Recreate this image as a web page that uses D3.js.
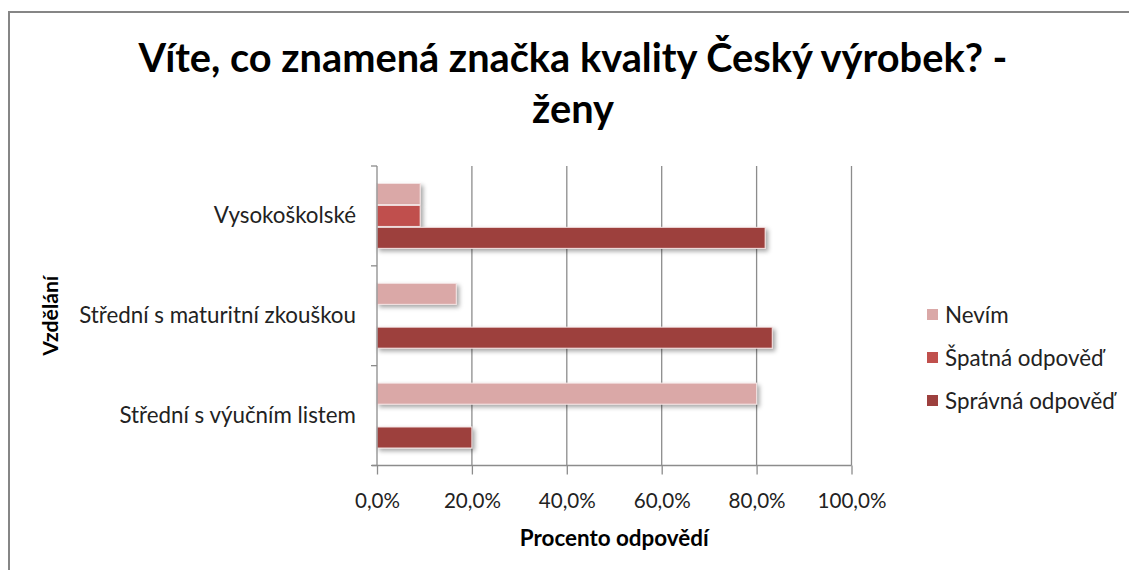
<!DOCTYPE html>
<html><head><meta charset="utf-8">
<script src="https://cdn.jsdelivr.net/npm/d3@7"></script>
<style>body{margin:0;background:#fff} svg{display:block}</style>
</head><body>
<svg id="c" width="1129" height="570"></svg>
<script>
const categories = ["Vysokoškolské", "Střední s maturitní zkouškou", "Střední s výučním listem"];
const seriesNames = ["Nevím", "Špatná odpověď", "Správná odpověď"];
const nevim = [9.1, 16.7, 80.0];
const spatna = [9.1, 0, 0];
const spravna = [81.8, 83.3, 20.0];
const xTicks = [0, 20, 40, 60, 80, 100];
const titleLines = ["Víte, co znamená značka kvality Český výrobek? -", "ženy"];
const xTitle = "Procento odpovědí";
const yTitle = "Vzdělání";
const colors = ["#DAA8A7", "#C0504D", "#9D403E"];

(function () {
const seriesValues = [nevim, spatna, spravna];
const FONT = "Lato, 'Open Sans', sans-serif";
const svg = d3.select("#c");

function fitSize(text, weight, target) {
  const t = svg.append("text").attr("font-family", FONT).attr("font-weight", weight)
    .attr("font-size", 100).text(text);
  const w = t.node().getComputedTextLength();
  t.remove();
  return 100 * target / w;
}

const defs = svg.append("defs");
const f = defs.append("filter").attr("id", "sh").attr("x", "-10%").attr("y", "-30%").attr("width", "130%").attr("height", "180%");
f.append("feDropShadow").attr("dx", 2.5).attr("dy", 2.5).attr("stdDeviation", 2)
  .attr("flood-color", "#000").attr("flood-opacity", 0.35);

svg.append("rect").attr("x", 9).attr("y", 12).attr("width", 1200).attr("height", 600)
  .attr("fill", "none").attr("stroke", "#868686").attr("stroke-width", 2);

const pL = 377, pR = 851.5, pT = 166, pB = 465.5;
const x = d3.scaleLinear().domain([0, 100]).range([pL, pR]);
const y = d3.scaleBand().domain(categories).range([pT, pB]).paddingInner(0.35).paddingOuter(0.175);
const ys = d3.scaleBand().domain(seriesNames).range([0, y.bandwidth()]).paddingInner(0.04);

const titleSize = fitSize(titleLines[0], "bold", 869);
svg.append("text").attr("font-family", FONT).attr("font-weight", "bold").attr("font-size", titleSize)
  .attr("text-anchor", "middle").attr("x", 573).attr("y", 72).text(titleLines[0]);
svg.append("text").attr("font-family", FONT).attr("font-weight", "bold").attr("font-size", titleSize)
  .attr("text-anchor", "middle").attr("x", 573).attr("y", 123).text(titleLines[1]);

svg.append("g").selectAll("line").data(xTicks.slice(1)).join("line")
  .attr("x1", d => x(d)).attr("x2", d => x(d)).attr("y1", pT).attr("y2", pB)
  .attr("stroke", "#8C8C8C").attr("stroke-width", 1.3);

const data = [];
categories.forEach((c, i) => seriesNames.forEach((s, j) => data.push({c, s, j, v: seriesValues[j][i]})));
svg.append("g").selectAll("rect").data(data.filter(d => d.v > 0)).join("rect")
  .attr("x", x(0)).attr("y", d => y(d.c) + ys(d.s))
  .attr("width", d => x(d.v) - x(0)).attr("height", ys.bandwidth())
  .attr("fill", d => colors[d.j]).attr("stroke", "#F4E4E4").attr("stroke-width", 1)
  .attr("filter", "url(#sh)");

const tickSize = fitSize("100,0%", "normal", 69);
const xAxis = d3.axisBottom(x).tickValues(xTicks).tickSize(9).tickPadding(19)
  .tickFormat(d => d3.format(".1f")(d).replace(".", ",") + "%");
const gx = svg.append("g").attr("transform", `translate(0,${pB})`).call(xAxis);
gx.select(".domain").attr("stroke", "#8C8C8C").attr("stroke-width", 1.3).attr("d", `M${pL - 5},0H${pR}`);
gx.selectAll(".tick line").attr("stroke", "#8C8C8C").attr("stroke-width", 1.3);
gx.selectAll(".tick text").attr("font-family", FONT).attr("font-size", tickSize).attr("fill", "#222");

const catSize = fitSize("Střední s maturitní zkouškou", "normal", 277);
const yAxis = d3.axisLeft(y).tickSize(0).tickPadding(21);
const gy = svg.append("g").attr("transform", `translate(${pL},0)`).call(yAxis);
gy.select(".domain").attr("stroke", "#8C8C8C").attr("stroke-width", 1.3).attr("d", `M0,${pT}V${pB}`);
gy.selectAll(".tick text").attr("font-family", FONT).attr("font-size", catSize).attr("fill", "#222");
const sep = categories.map(c => y(c) - y.step() * y.paddingInner() / 2);
sep.push(pB);
svg.append("g").selectAll("line").data(sep).join("line")
  .attr("x1", pL - 6).attr("x2", pL).attr("y1", d => d).attr("y2", d => d)
  .attr("stroke", "#8C8C8C").attr("stroke-width", 1.3);

const xtSize = fitSize(xTitle, "bold", 189);
svg.append("text").attr("font-family", FONT).attr("font-weight", "bold").attr("font-size", xtSize)
  .attr("text-anchor", "middle").attr("x", (pL + pR) / 2).attr("y", 546).text(xTitle);
const ytSize = fitSize(yTitle, "bold", 80);
svg.append("text").attr("font-family", FONT).attr("font-weight", "bold").attr("font-size", ytSize)
  .attr("text-anchor", "middle").attr("transform", `translate(58,${(pT + pB) / 2}) rotate(-90)`).text(yTitle);

const legSize = fitSize("Správná odpověď", "normal", 170);
const legY = d3.scalePoint().domain(seriesNames).range([315, 401]);
const lg = svg.append("g").selectAll("g").data(seriesNames).join("g")
  .attr("transform", d => `translate(927,${legY(d)})`);
lg.append("rect").attr("x", 0).attr("y", -6).attr("width", 11).attr("height", 11)
  .attr("fill", (d, i) => colors[i]);
lg.append("text").attr("x", 18).attr("y", 0).attr("dy", "0.36em").attr("font-family", FONT)
  .attr("font-size", legSize).attr("fill", "#222").text(d => d);
})();
</script>
</body></html>
